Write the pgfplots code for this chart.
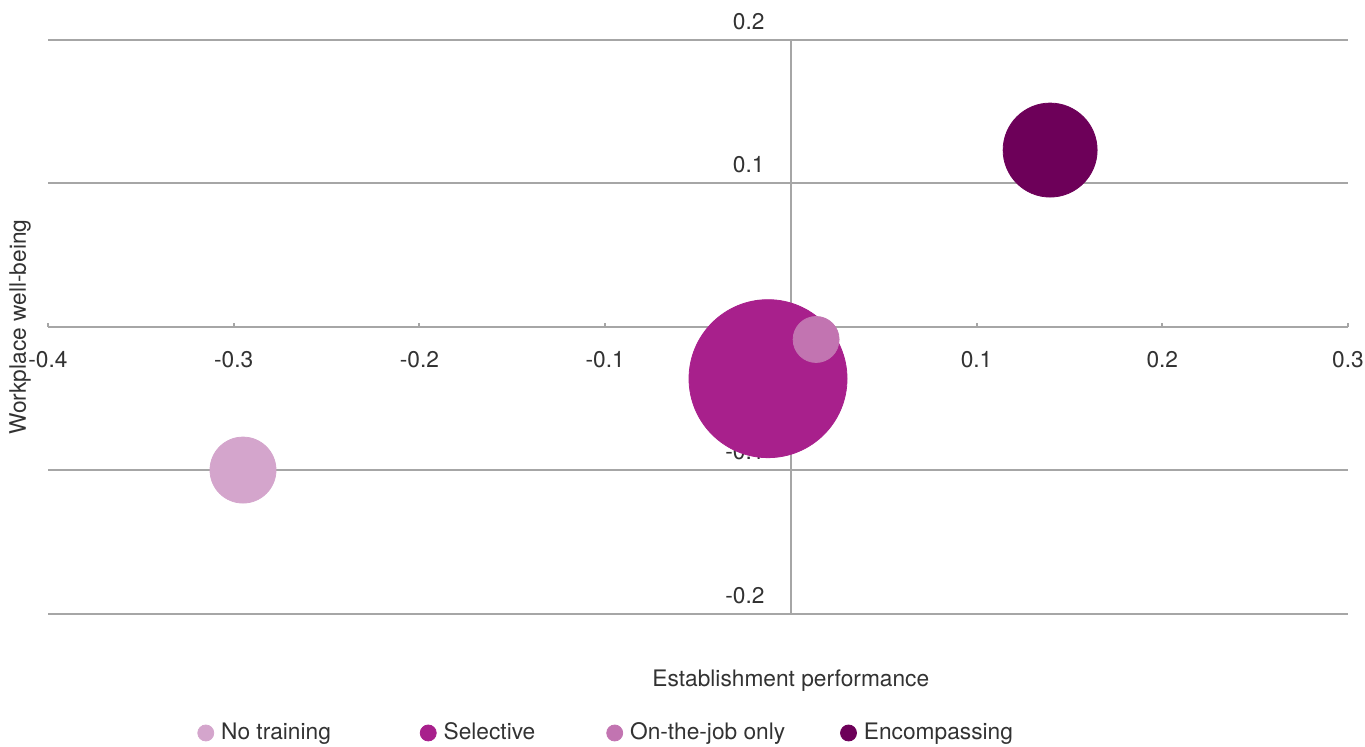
\documentclass[border=0pt]{standalone}
\usepackage{pgfplots}
\pgfplotsset{compat=1.18}
\usepackage{fontspec}
\setmainfont{TeX Gyre Heros}
\definecolor{nt}{RGB}{212,165,204}
\definecolor{sel}{RGB}{168,32,140}
\definecolor{otj}{RGB}{194,116,177}
\definecolor{enc}{RGB}{109,0,89}
\definecolor{gridc}{RGB}{166,166,166}
\definecolor{txt}{RGB}{50,50,50}
\begin{document}
\begin{tikzpicture}
\begin{axis}[
  name=ax,
  set layers,
  scale only axis,
  width=650bp, height=287bp,
  xmin=-0.4, xmax=0.3, ymin=-0.2, ymax=0.2,
  axis x line=middle, axis y line=middle,
  axis line style={-, draw=gridc, line width=1bp},
  xtick={-0.4,-0.3,-0.2,-0.1,0,0.1,0.2,0.3},
  ytick={-0.2,-0.1,0,0.1,0.2},
  hide obscured x ticks=false,
  hide obscured y ticks=false,
  xticklabels={-0.4,-0.3,-0.2,-0.1,,0.1,0.2,0.3},
  yticklabels={-0.2,-0.1,0,0.1,0.2},
  tick align=inside,
  major tick length=2bp,
  xtick style={draw=gridc, line width=1bp},
  ytick style={draw=none},
  ymajorgrids,
  major grid style={draw=gridc, line width=1bp},
  tick label style={font=\fontsize{11.4}{13}\selectfont, text=txt, inner sep=0pt},
  xticklabel style={anchor=north, yshift=-12bp},
  yticklabel style={anchor=south east, xshift=-13bp, yshift=5bp},
  xlabel={Establishment performance},
  ylabel={Workplace well-being},
  every axis x label/.style={at={(rel axis cs:0.5714,0)}, anchor=center, yshift=-33.5bp, font=\fontsize{11.4}{13}\selectfont, text=txt},
  every axis y label/.style={at={(rel axis cs:0,0.5)}, xshift=-14bp, rotate=90, anchor=center, font=\fontsize{11.4}{13}\selectfont, text=txt},
  legend columns=4,
  legend style={at={(rel axis cs:0.1146,-0.2073)}, anchor=west, draw=none, fill=none, inner sep=0pt,
    font=\fontsize{11.4}{13}\selectfont, text=txt,
    /tikz/every odd column/.append style={column sep=1.5bp},
    /tikz/column 2/.append style={column sep=42.5bp},
    /tikz/column 4/.append style={column sep=33.5bp},
    /tikz/column 6/.append style={column sep=25.5bp}},
  legend image code/.code={\fill[#1] (4bp,0bp) circle (4bp);},
]
\addplot[only marks, mark=*, mark size=16.5bp, color=nt, fill=nt, draw=nt] coordinates {(-0.295,-0.0997)};
\addlegendentry{No training}
\addplot[only marks, mark=*, mark size=39.5bp, color=sel, fill=sel, draw=sel] coordinates {(-0.0123,-0.036)};
\addlegendentry{Selective}
\addplot[only marks, mark=*, mark size=11.5bp, color=otj, fill=otj, draw=otj] coordinates {(0.0136,-0.0087)};
\addlegendentry{On-the-job only}
\addplot[only marks, mark=*, mark size=23.5bp, color=enc, fill=enc, draw=enc] coordinates {(0.1396,0.1233)};
\addlegendentry{Encompassing}
\end{axis}
\pgfresetboundingbox
\path[use as bounding box] ([xshift=-24bp,yshift=-66.5bp]ax.south west) rectangle ([xshift=8.5bp,yshift=20bp]ax.north east);
\end{tikzpicture}
\end{document}
